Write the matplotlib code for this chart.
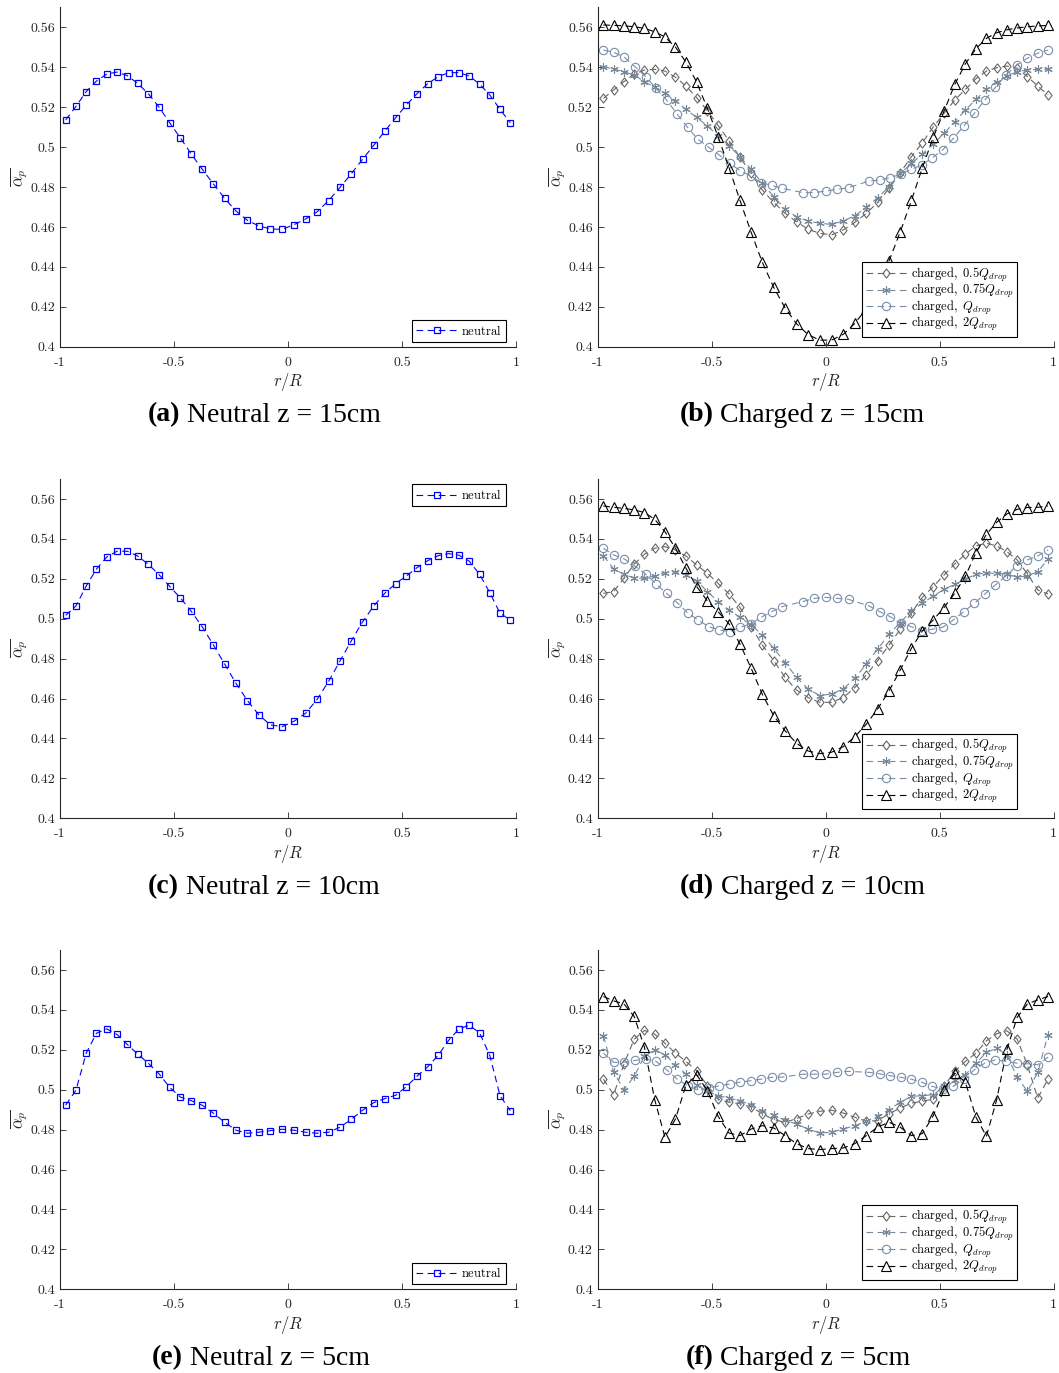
import matplotlib
matplotlib.use("Agg")
import matplotlib.pyplot as plt
from matplotlib.path import Path
from matplotlib.offsetbox import TextArea, HPacker, AnchoredOffsetbox

plt.rcParams["mathtext.fontset"] = "cm"
plt.rcParams["axes.unicode_minus"] = False

# ── radial positions (r/R)
x_grid = [-0.975, -0.930, -0.885, -0.840, -0.795, -0.750, -0.705, -0.659, -0.613, -0.566, -0.519,
          -0.472, -0.424, -0.376, -0.327, -0.278, -0.228, -0.178, -0.128, -0.077, -0.026,
          0.026, 0.077, 0.128, 0.178, 0.228, 0.278, 0.327, 0.376, 0.424, 0.472, 0.519,
          0.566, 0.613, 0.659, 0.705, 0.750, 0.795, 0.840, 0.885, 0.930, 0.975]
x_q = [-0.975, -0.929, -0.883, -0.837, -0.790, -0.744, -0.698, -0.652, -0.606, -0.560, -0.513,
       -0.467, -0.421, -0.375, -0.329, -0.283, -0.236, -0.190, -0.100, -0.050, 0.000, 0.050,
       0.100, 0.190, 0.236, 0.283, 0.329, 0.375, 0.421, 0.467, 0.513, 0.560, 0.606, 0.652,
       0.698, 0.744, 0.790, 0.837, 0.883, 0.929, 0.975]

# ── neutral profiles
neutral_15 = [0.5136, 0.5204, 0.5278, 0.5331, 0.5366, 0.5376, 0.5358, 0.5319, 0.5268, 0.5201, 0.5122,
              0.5046, 0.4965, 0.4889, 0.4815, 0.4743, 0.4680, 0.4633, 0.4605, 0.4590, 0.4588,
              0.4611, 0.4640, 0.4676, 0.4732, 0.4798, 0.4867, 0.4939, 0.5009, 0.5079, 0.5147,
              0.5211, 0.5268, 0.5318, 0.5353, 0.5373, 0.5373, 0.5356, 0.5316, 0.5261, 0.5189, 0.5122]
neutral_10 = [0.5017, 0.5064, 0.5164, 0.5249, 0.5309, 0.5338, 0.5338, 0.5314, 0.5273, 0.5221, 0.5162,
              0.5104, 0.5037, 0.4959, 0.4868, 0.4773, 0.4676, 0.4590, 0.4518, 0.4468, 0.4459,
              0.4486, 0.4526, 0.4596, 0.4686, 0.4788, 0.4890, 0.4984, 0.5064, 0.5127, 0.5176,
              0.5214, 0.5256, 0.5291, 0.5316, 0.5326, 0.5318, 0.5288, 0.5223, 0.5131, 0.5027, 0.4994]
neutral_5 = [0.4923, 0.4997, 0.5183, 0.5283, 0.5305, 0.5277, 0.5227, 0.5178, 0.5133, 0.5080, 0.5012,
             0.4963, 0.4945, 0.4922, 0.4882, 0.4837, 0.4797, 0.4782, 0.4787, 0.4795, 0.4802,
             0.4797, 0.4787, 0.4782, 0.4787, 0.4812, 0.4852, 0.4897, 0.4935, 0.4955, 0.4972,
             0.5015, 0.5068, 0.5115, 0.5173, 0.5248, 0.5305, 0.5323, 0.5285, 0.5172, 0.4970, 0.4895]

# ── charged profiles, z = 15cm
c15_half = [0.5244, 0.5286, 0.5328, 0.5366, 0.5386, 0.5390, 0.5381, 0.5350, 0.5306, 0.5248, 0.5182,
            0.5109, 0.5032, 0.4949, 0.4868, 0.4785, 0.4723, 0.4668, 0.4626, 0.4588, 0.4568,
            0.4560, 0.4585, 0.4623, 0.4668, 0.4723, 0.4793, 0.4872, 0.4952, 0.5022, 0.5102,
            0.5169, 0.5236, 0.5289, 0.5343, 0.5381, 0.5398, 0.5406, 0.5395, 0.5353, 0.5306, 0.5261]
c15_075 = [0.5403, 0.5391, 0.5378, 0.5361, 0.5328, 0.5299, 0.5273, 0.5233, 0.5189, 0.5149, 0.5106,
           0.5057, 0.5007, 0.4952, 0.4889, 0.4818, 0.4752, 0.4690, 0.4651, 0.4630, 0.4618,
           0.4613, 0.4631, 0.4656, 0.4698, 0.4747, 0.4802, 0.4868, 0.4918, 0.4965, 0.5016,
           0.5069, 0.5127, 0.5186, 0.5239, 0.5289, 0.5328, 0.5356, 0.5378, 0.5386, 0.5390, 0.5391]
c15_q = [0.5486, 0.5475, 0.5450, 0.5403, 0.5353, 0.5294, 0.5236, 0.5166, 0.5099, 0.5039, 0.4999,
         0.4960, 0.4919, 0.4882, 0.4855, 0.4822, 0.4808, 0.4793, 0.4772, 0.4772, 0.4780,
         0.4788, 0.4797, 0.4830, 0.4835, 0.4847, 0.4865, 0.4889, 0.4910, 0.4946, 0.4986,
         0.5044, 0.5106, 0.5169, 0.5236, 0.5299, 0.5361, 0.5410, 0.5445, 0.5470, 0.5486]
c15_2q = [0.5612, 0.5610, 0.5608, 0.5603, 0.5595, 0.5578, 0.5552, 0.5501, 0.5426, 0.5326, 0.5194,
          0.5052, 0.4897, 0.4733, 0.4573, 0.4423, 0.4297, 0.4194, 0.4115, 0.4060, 0.4033,
          0.4033, 0.4062, 0.4117, 0.4190, 0.4290, 0.4430, 0.4575, 0.4733, 0.4897, 0.5050,
          0.5180, 0.5314, 0.5418, 0.5493, 0.5545, 0.5573, 0.5588, 0.5597, 0.5603, 0.5607, 0.5610]

# ── charged profiles, z = 10cm
c10_half = [0.5127, 0.5136, 0.5203, 0.5273, 0.5323, 0.5353, 0.5361, 0.5344, 0.5314, 0.5269, 0.5228,
            0.5177, 0.5124, 0.5057, 0.4960, 0.4868, 0.4790, 0.4706, 0.4643, 0.4605, 0.4581,
            0.4581, 0.4605, 0.4655, 0.4718, 0.4790, 0.4868, 0.4947, 0.5030, 0.5107, 0.5161,
            0.5219, 0.5274, 0.5324, 0.5365, 0.5378, 0.5365, 0.5336, 0.5294, 0.5224, 0.5144, 0.5124]
c10_075 = [0.5316, 0.5249, 0.5223, 0.5203, 0.5203, 0.5214, 0.5231, 0.5236, 0.5219, 0.5191, 0.5136,
           0.5086, 0.5044, 0.5007, 0.4969, 0.4919, 0.4852, 0.4780, 0.4706, 0.4648, 0.4615,
           0.4623, 0.4648, 0.4701, 0.4773, 0.4848, 0.4924, 0.4980, 0.5040, 0.5077, 0.5114,
           0.5147, 0.5172, 0.5199, 0.5223, 0.5228, 0.5228, 0.5223, 0.5208, 0.5214, 0.5236, 0.5298]
c10_q = [0.5353, 0.5319, 0.5299, 0.5264, 0.5224, 0.5174, 0.5127, 0.5081, 0.5030, 0.4994, 0.4960,
         0.4944, 0.4935, 0.4957, 0.4974, 0.5007, 0.5036, 0.5061, 0.5086, 0.5102, 0.5107,
         0.5102, 0.5097, 0.5064, 0.5036, 0.5010, 0.4980, 0.4960, 0.4940, 0.4947, 0.4957,
         0.4994, 0.5036, 0.5077, 0.5124, 0.5169, 0.5214, 0.5264, 0.5294, 0.5314, 0.5344]
c10_2q = [0.5565, 0.5558, 0.5553, 0.5545, 0.5532, 0.5498, 0.5436, 0.5353, 0.5253, 0.5161, 0.5089,
          0.5035, 0.4974, 0.4873, 0.4752, 0.4621, 0.4514, 0.4438, 0.4376, 0.4337, 0.4324,
          0.4331, 0.4359, 0.4409, 0.4471, 0.4548, 0.4638, 0.4743, 0.4852, 0.4939, 0.4994,
          0.5056, 0.5127, 0.5214, 0.5331, 0.5423, 0.5483, 0.5525, 0.5548, 0.5557, 0.5558, 0.5565]

# ── charged profiles, z = 5cm
c5_half = [0.5053, 0.4975, 0.5128, 0.5253, 0.5297, 0.5278, 0.5233, 0.5183, 0.5142, 0.5095, 0.5020,
           0.4953, 0.4937, 0.4930, 0.4913, 0.4880, 0.4850, 0.4837, 0.4855, 0.4878, 0.4892,
           0.4897, 0.4883, 0.4862, 0.4842, 0.4845, 0.4880, 0.4908, 0.4933, 0.4942, 0.4953,
           0.5017, 0.5092, 0.5142, 0.5183, 0.5245, 0.5280, 0.5295, 0.5253, 0.5122, 0.4958, 0.5053]
c5_075 = [0.5270, 0.5087, 0.5000, 0.5067, 0.5167, 0.5200, 0.5175, 0.5125, 0.5078, 0.5022, 0.4992,
          0.4970, 0.4958, 0.4945, 0.4925, 0.4895, 0.4872, 0.4847, 0.4828, 0.4803, 0.4783,
          0.4787, 0.4803, 0.4820, 0.4842, 0.4867, 0.4900, 0.4937, 0.4967, 0.4970, 0.4975,
          0.5017, 0.5050, 0.5075, 0.5133, 0.5187, 0.5208, 0.5172, 0.5062, 0.4992, 0.5087, 0.5275]
c5_q = [0.5183, 0.5137, 0.5138, 0.5147, 0.5153, 0.5142, 0.5100, 0.5053, 0.5020, 0.4997, 0.5008,
        0.5020, 0.5028, 0.5038, 0.5045, 0.5053, 0.5062, 0.5063, 0.5078, 0.5078, 0.5078,
        0.5087, 0.5092, 0.5087, 0.5080, 0.5070, 0.5062, 0.5053, 0.5037, 0.5017, 0.5003,
        0.5017, 0.5053, 0.5100, 0.5133, 0.5150, 0.5142, 0.5133, 0.5130, 0.5125, 0.5163]
c5_2q = [0.5467, 0.5445, 0.5430, 0.5367, 0.5213, 0.4950, 0.4762, 0.4853, 0.5022, 0.5075, 0.4995,
         0.4867, 0.4783, 0.4770, 0.4803, 0.4820, 0.4808, 0.4770, 0.4730, 0.4705, 0.4700,
         0.4705, 0.4708, 0.4730, 0.4770, 0.4813, 0.4837, 0.4812, 0.4770, 0.4780, 0.4870,
         0.5000, 0.5083, 0.5037, 0.4862, 0.4767, 0.4950, 0.5203, 0.5363, 0.5430, 0.5450, 0.5467]

xticks = [-1, -0.5, 0, 0.5, 1]
xtick_labels = ["-1", "-0.5", "0", "0.5", "1"]
yticks = [0.4, 0.42, 0.44, 0.46, 0.48, 0.5, 0.52, 0.54, 0.56]
ytick_labels = ["0.4", "0.42", "0.44", "0.46", "0.48", "0.5", "0.52", "0.54", "0.56"]

charged_labels = [r"$\mathrm{charged,}\ 0.5Q_{drop}$", r"$\mathrm{charged,}\ 0.75Q_{drop}$",
                  r"$\mathrm{charged,}\ Q_{drop}$", r"$\mathrm{charged,}\ 2Q_{drop}$"]

diamond = Path([(0, 1), (0.78, 0), (0, -1), (-0.78, 0), (0, 1)],
               [Path.MOVETO, Path.LINETO, Path.LINETO, Path.LINETO, Path.CLOSEPOLY])
# marker, colour, size for 0.5Q, 0.75Q, Q, 2Q
charged_style = [(diamond, "#666666", 6.6), ((6, 2, 0), "#778899", 6.0),
                 ("o", "#7b8ea8", 6.0), ("^", "black", 7.0)]
dash = (0, (6, 4))

W, H = 1059, 1373
AX_W, AX_H = 456, 339.3
fig = plt.figure(figsize=(W / 100, H / 100), dpi=100)


def make_axes(left_px, top_px):
    ax = fig.add_axes([left_px / W, 1 - (top_px + AX_H) / H, AX_W / W, AX_H / H])
    ax.set_xlim(-1, 1)
    ax.set_ylim(0.4, 0.57)
    for s in ["top", "right"]:
        ax.spines[s].set_visible(False)
    for s in ["left", "bottom"]:
        ax.spines[s].set_color("#262626")
        ax.spines[s].set_linewidth(0.8)
    ax.set_xticks(xticks)
    ax.set_xticklabels(xtick_labels, family="cmr10", fontsize=10, color="#262626")
    ax.set_yticks(yticks)
    ax.set_yticklabels(ytick_labels, family="cmr10", fontsize=10, color="#262626")
    ax.tick_params(direction="in", length=4, width=0.6, color="#262626")
    ax.tick_params(axis="x", pad=7)
    ax.tick_params(axis="y", pad=3.5)
    ax.set_xlabel(r"$r/R$", fontsize=12, color="#262626")
    ax.set_ylabel(r"$\overline{\alpha_p}$", fontsize=12, color="#262626")
    ax.xaxis.set_label_coords(0.5, -0.072)
    ax.yaxis.set_label_coords(-0.066, 0.5)
    return ax


def legend(ax, loc, anchor, spacing):
    leg = ax.legend(loc=loc, bbox_to_anchor=anchor, borderaxespad=0, fontsize=9,
                    fancybox=False, framealpha=1, edgecolor="black", borderpad=0.3,
                    labelspacing=spacing, handlelength=3.3, handletextpad=0.3)
    leg.get_frame().set_linewidth(0.8)


def neutral_panel(top_px, y, loc, anchor):
    ax = make_axes(60, top_px)
    ax.plot(x_grid, y, color="blue", ls=dash, lw=0.8, marker="s", ms=5,
            mfc="none", mec="blue", mew=0.9, label=r"$\mathrm{neutral}$")
    legend(ax, loc, anchor, 0.2)


def charged_panel(top_px, series):
    ax = make_axes(597.7, top_px)
    xs = [x_grid, x_grid, x_q, x_grid]
    for xv, yv, (mk, col, ms), lab in zip(xs, series, charged_style, charged_labels):
        ax.plot(xv, yv, color=col, ls=dash, lw=0.8, marker=mk, ms=ms,
                mfc="none", mec=col, mew=0.8, label=lab)
    legend(ax, "lower right", (0.920, 0.028), -0.12)


def caption(cx, cy, tag, text):
    props = dict(family="Liberation Serif", fontsize=20, color="black")
    box = HPacker(children=[TextArea(tag, textprops=dict(props, fontweight="bold")),
                            TextArea(text, textprops=props)],
                  sep=5, align="baseline", pad=0)
    fig.add_artist(AnchoredOffsetbox(loc="center", child=box, pad=0, borderpad=0, frameon=False,
                                     bbox_to_anchor=(cx / W, 1 - cy / H),
                                     bbox_transform=fig.transFigure))


tops = [7.4, 479, 950]
neutral_panel(tops[0], neutral_15, "lower right", (0.977, 0.015))
neutral_panel(tops[1], neutral_10, "upper right", (0.977, 0.984))
neutral_panel(tops[2], neutral_5, "lower right", (0.977, 0.015))
charged_panel(tops[0], [c15_half, c15_075, c15_q, c15_2q])
charged_panel(tops[1], [c10_half, c10_075, c10_q, c10_2q])
charged_panel(tops[2], [c5_half, c5_075, c5_q, c5_2q])

caption(264, 415, "(a)", "Neutral z = 15cm")
caption(802, 415, "(b)", "Charged z = 15cm")
caption(264, 887, "(c)", "Neutral z = 10cm")
caption(802, 887, "(d)", "Charged z = 10cm")
caption(261, 1358, "(e)", "Neutral z = 5cm")
caption(798, 1358, "(f)", "Charged z = 5cm")

fig.savefig("out.png", dpi=100)
